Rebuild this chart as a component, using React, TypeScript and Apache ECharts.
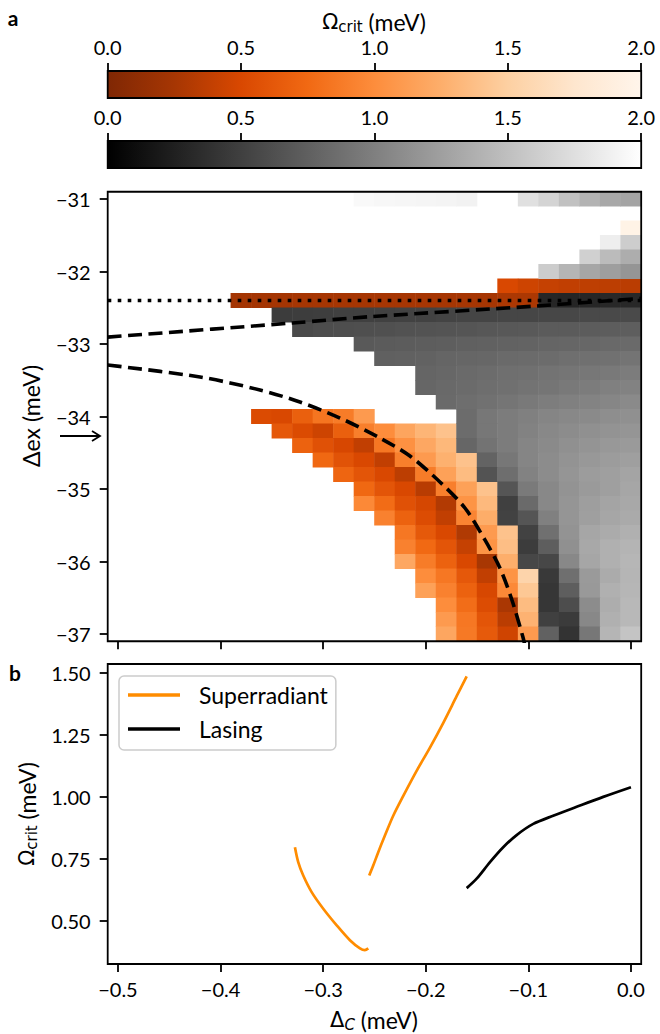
import React, { useEffect, useRef } from 'react';
import * as echarts from 'echarts';

// ---------- categories of the map (cell centres) ----------
const xCats = ['-0.50','-0.48','-0.46','-0.44','-0.42','-0.40','-0.38','-0.36','-0.34','-0.32','-0.30','-0.28','-0.26','-0.24','-0.22','-0.20','-0.18','-0.16','-0.14','-0.12','-0.10','-0.08','-0.06','-0.04','-0.02','0.00'];
const yCats = ['-31.0','-31.2','-31.4','-31.6','-31.8','-32.0','-32.2','-32.4','-32.6','-32.8','-33.0','-33.2','-33.4','-33.6','-33.8','-34.0','-34.2','-34.4','-34.6','-34.8','-35.0','-35.2','-35.4','-35.6','-35.8','-36.0','-36.2','-36.4','-36.6','-36.8','-37.0'];

// ---------- superradiant cells: [row, first column, values] ----------
const superradiantRows: [number, number, number[]][] = [
  [2, 25, [1.96]],
  [6, 19, [0.50, 0.44, 0.40, 0.38, 0.37, 0.36, 0.35]],
  [7, 6, [0.24, 0.24, 0.24, 0.25, 0.25, 0.25, 0.25, 0.25, 0.25, 0.25, 0.25, 0.25, 0.25, 0.28, 0.28]],
  [15, 7, [0.52, 0.50, 0.68, 0.83, 0.88, 1.10]],
  [16, 8, [0.62, 0.52, 0.44, 0.68, 0.90, 1.00, 1.18, 1.30, 1.40]],
  [17, 9, [0.70, 0.57, 0.49, 0.38, 0.85, 1.03, 1.20, 1.32]],
  [18, 10, [0.74, 0.58, 0.50, 0.38, 0.90, 1.10, 1.27, 1.40]],
  [19, 11, [0.72, 0.60, 0.50, 0.36, 0.88, 1.15, 1.35]],
  [20, 12, [0.74, 0.60, 0.50, 0.34, 0.90, 1.15, 1.40]],
  [21, 12, [0.97, 0.77, 0.57, 0.48, 0.31, 1.05, 1.33]],
  [22, 13, [0.92, 0.70, 0.53, 0.38, 0.94, 1.24]],
  [23, 14, [0.85, 0.63, 0.50, 0.30, 1.10, 1.40]],
  [24, 14, [0.92, 0.75, 0.60, 0.40, 1.05, 1.37]],
  [25, 14, [1.20, 0.88, 0.70, 0.50, 0.26, 1.25]],
  [26, 15, [1.00, 0.85, 0.62, 0.38, 1.05, 1.55]],
  [27, 15, [1.15, 0.92, 0.70, 0.49, 0.97, 1.44]],
  [28, 16, [1.00, 0.78, 0.53, 0.27, 1.35]],
  [29, 16, [1.10, 0.85, 0.60, 0.35, 1.28]],
  [30, 16, [1.19, 0.86, 0.64, 0.45, 1.10]],
];

// ---------- lasing cells: [row, first column, values] ----------
const lasingRows: [number, number, number[]][] = [
  [0, 12, [1.95, 1.94, 1.93, 1.92, 1.91, 1.90]],
  [0, 20, [1.76, 1.66, 1.51, 1.40, 1.32, 1.29]],
  [3, 24, [1.87, 1.61]],
  [4, 23, [1.63, 1.47, 1.36]],
  [5, 21, [1.60, 1.42, 1.30, 1.24, 1.17]],
  [7, 21, [0.30, 0.29, 0.30, 0.31, 0.31]],
  [8, 8, [0.47, 0.48, 0.49, 0.50, 0.50, 0.51, 0.52, 0.52, 0.53, 0.54, 0.54, 0.55, 0.55, 0.56, 0.56, 0.57, 0.57, 0.58]],
  [9, 9, [0.58, 0.60, 0.61, 0.62, 0.63, 0.64, 0.65, 0.66, 0.67, 0.68, 0.69, 0.70, 0.71, 0.71, 0.72, 0.73, 0.74]],
  [10, 12, [0.70, 0.71, 0.72, 0.73, 0.74, 0.75, 0.76, 0.77, 0.78, 0.79, 0.80, 0.81, 0.82, 0.83]],
  [11, 13, [0.75, 0.76, 0.77, 0.79, 0.80, 0.81, 0.83, 0.84, 0.85, 0.87, 0.88, 0.89, 0.91]],
  [12, 15, [0.79, 0.81, 0.83, 0.85, 0.87, 0.88, 0.90, 0.92, 0.93, 0.95, 0.97]],
  [13, 15, [0.80, 0.82, 0.84, 0.86, 0.88, 0.90, 0.92, 0.95, 0.97, 1.00, 1.02]],
  [14, 16, [0.83, 0.86, 0.89, 0.92, 0.95, 0.98, 1.00, 1.03, 1.05, 1.08]],
  [15, 17, [0.85, 0.93, 0.97, 1.00, 1.04, 1.07, 1.08, 1.11, 1.13]],
  [16, 17, [0.85, 0.93, 0.97, 1.02, 1.07, 1.10, 1.13, 1.15, 1.17]],
  [17, 17, [0.80, 0.90, 0.97, 1.04, 1.08, 1.13, 1.16, 1.19, 1.21]],
  [18, 18, [0.78, 0.93, 1.04, 1.10, 1.15, 1.19, 1.22, 1.25]],
  [19, 18, [0.65, 0.86, 1.02, 1.10, 1.17, 1.22, 1.25, 1.29]],
  [20, 19, [0.67, 0.96, 1.07, 1.15, 1.21, 1.25, 1.30]],
  [21, 19, [0.50, 0.83, 1.07, 1.17, 1.24, 1.29, 1.32]],
  [22, 19, [0.52, 0.67, 1.00, 1.17, 1.25, 1.30, 1.33]],
  [23, 20, [0.52, 0.88, 1.15, 1.30, 1.34, 1.38]],
  [24, 20, [0.47, 0.74, 1.13, 1.32, 1.38, 1.41]],
  [25, 20, [0.56, 0.56, 1.07, 1.30, 1.38, 1.43]],
  [26, 21, [0.45, 0.87, 1.21, 1.34, 1.42]],
  [27, 21, [0.42, 0.74, 1.20, 1.38, 1.43]],
  [28, 21, [0.42, 0.60, 1.10, 1.36, 1.44]],
  [29, 21, [0.50, 0.46, 1.07, 1.38, 1.44]],
  [30, 21, [0.76, 0.40, 0.93, 1.42, 1.54]],
];

// ---------- colour maps ----------
const orangeColors = ['#7f2704', '#a63603', '#d94801', '#f16913', '#fd8d3c', '#fdae6b', '#fdd0a2', '#fee6ce', '#fff5eb'];
const grayColors = ['#000000', '#ffffff'];

// ---------- guide lines in panel a ----------
const dottedLine = [[-0.51, -32.4], [0.01, -32.4]];
const upperDashed = [[-0.51, -32.905], [-0.33, -32.71], [-0.254, -32.623], [-0.092, -32.476], [0.01, -32.37]];
const lowerDashed = [[-0.51, -33.29], [-0.42, -33.455], [-0.3616, -33.634], [-0.3226, -33.80], [-0.2836, -34.021], [-0.2446, -34.297], [-0.2154, -34.545], [-0.1862, -34.903], [-0.1618, -35.262], [-0.1423, -35.703], [-0.1277, -36.09], [-0.116, -36.531], [-0.1053, -37.041], [-0.1035, -37.15]];

// ---------- panel b curves ----------
const superradiantUpper = [[-0.2551, 0.682], [-0.2512, 0.722], [-0.2463, 0.776], [-0.2398, 0.843], [-0.2317, 0.923], [-0.2219, 1.003], [-0.2089, 1.104], [-0.1959, 1.198], [-0.1829, 1.298], [-0.1699, 1.405], [-0.1601, 1.485]];
const superradiantLower = [[-0.3275, 0.796], [-0.3243, 0.736], [-0.3194, 0.682], [-0.3112, 0.615], [-0.2999, 0.548], [-0.2868, 0.481], [-0.2739, 0.421], [-0.2641, 0.388], [-0.2593, 0.381], [-0.2560, 0.388]];
const lasingCurve = [[-0.1601, 0.631], [-0.1504, 0.669], [-0.1374, 0.736], [-0.1245, 0.796], [-0.1114, 0.845], [-0.0952, 0.890], [-0.0758, 0.923], [-0.0529, 0.959], [-0.0270, 0.999], [0.0, 1.038]];
const bottomXTicks = [-0.5, -0.4, -0.3, -0.2, -0.1, 0];
const bottomYTicks = [0.5, 0.75, 1.0, 1.25, 1.5];

const FONT = 'Lato';
const TICK_FS = 20;
const NAME_FS = 23;

function toCells(rows: [number, number, number[]][]) {
  const out: number[][] = [];
  rows.forEach(([r, c0, vals]) => vals.forEach((v, k) => out.push([c0 + k, r, v])));
  return out;
}

const minus = (v: number, d: number) => (v < -1e-9 ? '\u2212' : '') + Math.abs(v).toFixed(d);

const tickStyle = { color: '#000', width: 1.8 };

function colorbarSeries(idx: number, colors: string[]) {
  return {
    type: 'custom',
    xAxisIndex: idx,
    yAxisIndex: idx,
    silent: true,
    data: [[0, 0, 2, 1]],
    renderItem: (params: any, api: any) => {
      const p0 = api.coord([api.value(0), api.value(1)]);
      const p1 = api.coord([api.value(2), api.value(3)]);
      const stops = colors.map((c, i) => ({ offset: i / (colors.length - 1), color: c }));
      return {
        type: 'rect',
        shape: { x: p0[0], y: p1[1], width: p1[0] - p0[0], height: p0[1] - p1[1] },
        style: { fill: new echarts.graphic.LinearGradient(0, 0, 1, 0, stops), stroke: '#000', lineWidth: 1.8 },
      };
    },
  };
}

function colorbarAxis(idx: number) {
  return {
    gridIndex: idx,
    type: 'value',
    min: 0,
    max: 2,
    interval: 0.5,
    position: 'top',
    axisLine: { show: false, onZero: false },
    axisTick: { show: true, inside: false, length: 8, lineStyle: tickStyle },
    axisLabel: { show: true, formatter: (v: number) => v.toFixed(1), fontSize: TICK_FS, fontFamily: FONT, color: '#000', margin: 14 },
    splitLine: { show: false },
  };
}

const subRich = (italic: boolean) => ({
  o: { fontFamily: 'DejaVu Sans', fontSize: 21, fill: '#000' },
  s: { fontFamily: 'DejaVu Sans', fontStyle: italic ? 'italic' : 'normal', fontSize: 15, fill: '#000', padding: [9, 0, 0, 0] },
  n: { fontFamily: FONT, fontSize: NAME_FS, fill: '#000' },
});

export default function App() {
  const ref = useRef<HTMLDivElement>(null);
  useEffect(() => {
    const chart = echarts.init(ref.current!, null, { renderer: 'svg' });
    const every5 = (i: number) => i % 5 === 0;
    const option: any = {
      animation: false,
      backgroundColor: '#ffffff',
      textStyle: { fontFamily: FONT },
      grid: [
        { left: 107.7, top: 191.75, width: 533.5, height: 449.5, show: false },
        { left: 107.7, top: 191.75, width: 533.5, height: 449.5, show: true, borderColor: '#000', borderWidth: 1.8, backgroundColor: 'transparent', z: 10 },
        { left: 107.7, top: 664, width: 533.5, height: 300, show: true, borderColor: '#000', borderWidth: 1.8, backgroundColor: 'transparent', z: 10 },
        { left: 107.7, top: 71, width: 533.5, height: 27, show: false },
        { left: 107.7, top: 141, width: 533.5, height: 27, show: false },
      ],
      xAxis: [
        {
          gridIndex: 0, type: 'category', data: xCats,
          axisLine: { show: false, onZero: false },
          axisTick: { show: true, alignWithLabel: true, interval: every5, length: 8, lineStyle: tickStyle },
          axisLabel: { show: false, interval: every5 },
          splitLine: { show: false },
        },
        { gridIndex: 1, type: 'value', min: -0.51, max: 0.01, show: false, axisLine: { onZero: false } },
        {
          gridIndex: 2, type: 'value', min: -0.51, max: 0.01,
          axisLine: { show: false, onZero: false },
          axisTick: { show: true, customValues: bottomXTicks, length: 8, lineStyle: tickStyle },
          axisLabel: { show: true, customValues: bottomXTicks, formatter: (v: number) => minus(v, 1), fontSize: TICK_FS, fontFamily: FONT, color: '#000', margin: 15 },
          splitLine: { show: false },
        },
        colorbarAxis(3),
        colorbarAxis(4),
      ],
      yAxis: [
        {
          gridIndex: 0, type: 'category', data: yCats, inverse: true,
          axisLine: { show: false, onZero: false },
          axisTick: { show: true, alignWithLabel: true, interval: every5, length: 8, lineStyle: tickStyle },
          axisLabel: { show: true, interval: every5, formatter: (v: string) => minus(parseFloat(v), 0), fontSize: TICK_FS, fontFamily: FONT, color: '#000', margin: 17 },
          splitLine: { show: false },
        },
        { gridIndex: 1, type: 'value', min: -37.1, max: -30.9, show: false, axisLine: { onZero: false } },
        {
          gridIndex: 2, type: 'value', min: 0.325, max: 1.535,
          axisLine: { show: false, onZero: false },
          axisTick: { show: true, customValues: bottomYTicks, length: 8, lineStyle: tickStyle },
          axisLabel: { show: true, customValues: bottomYTicks, formatter: (v: number) => v.toFixed(2), fontSize: TICK_FS, fontFamily: FONT, color: '#000', margin: 17 },
          splitLine: { show: false },
        },
        { gridIndex: 3, type: 'value', min: 0, max: 1, show: false, axisLine: { onZero: false } },
        { gridIndex: 4, type: 'value', min: 0, max: 1, show: false, axisLine: { onZero: false } },
      ],
      visualMap: [
        { type: 'continuous', show: false, seriesIndex: 0, dimension: 2, min: 0, max: 2, inRange: { color: orangeColors } },
        { type: 'continuous', show: false, seriesIndex: 1, dimension: 2, min: 0, max: 2, inRange: { color: grayColors } },
      ],
      legend: {
        show: true,
        left: 119,
        top: 676,
        orient: 'vertical',
        selectedMode: false,
        data: ['Superradiant', 'Lasing'],
        icon: 'rect',
        itemWidth: 52,
        itemHeight: 3.5,
        itemGap: 8,
        padding: [6, 8, 8, 9],
        borderColor: '#cccccc',
        borderWidth: 1.5,
        borderRadius: 5,
        backgroundColor: 'rgba(255,255,255,0.8)',
        textStyle: { fontSize: NAME_FS, fontFamily: FONT, color: '#000', lineHeight: 26, padding: [0, 0, 0, 14] },
      },
      series: [
        { type: 'heatmap', name: 'Superradiant map', xAxisIndex: 0, yAxisIndex: 0, data: toCells(superradiantRows), itemStyle: { borderWidth: 0 }, emphasis: { disabled: true }, silent: true },
        { type: 'heatmap', name: 'Lasing map', xAxisIndex: 0, yAxisIndex: 0, data: toCells(lasingRows), itemStyle: { borderWidth: 0 }, emphasis: { disabled: true }, silent: true },
        { type: 'line', name: 'dotted', xAxisIndex: 1, yAxisIndex: 1, data: dottedLine, symbol: 'none', z: 5, silent: true, lineStyle: { color: '#000', width: 3.6, type: [3.6, 6.4], cap: 'butt' } },
        { type: 'line', name: 'upper boundary', xAxisIndex: 1, yAxisIndex: 1, data: upperDashed, symbol: 'none', smooth: 0.3, z: 5, silent: true, lineStyle: { color: '#000', width: 3.6, type: [14, 6.5], cap: 'butt' } },
        { type: 'line', name: 'lower boundary', xAxisIndex: 1, yAxisIndex: 1, data: lowerDashed, symbol: 'none', smooth: 0.3, z: 5, silent: true, lineStyle: { color: '#000', width: 3.6, type: [14, 6.5], cap: 'butt' } },
        { type: 'line', name: 'Superradiant', xAxisIndex: 2, yAxisIndex: 2, data: superradiantUpper, symbol: 'none', smooth: 0.3, z: 5, itemStyle: { color: '#ff8c00' }, lineStyle: { color: '#ff8c00', width: 2.7 } },
        { type: 'line', name: 'Superradiant', xAxisIndex: 2, yAxisIndex: 2, data: superradiantLower, symbol: 'none', smooth: 0.3, z: 5, itemStyle: { color: '#ff8c00' }, lineStyle: { color: '#ff8c00', width: 2.7 } },
        { type: 'line', name: 'Lasing', xAxisIndex: 2, yAxisIndex: 2, data: lasingCurve, symbol: 'none', smooth: 0.3, z: 5, itemStyle: { color: '#000000' }, lineStyle: { color: '#000000', width: 2.7 } },
        colorbarSeries(3, orangeColors),
        colorbarSeries(4, grayColors),
      ],
      graphic: [
        { type: 'text', x: 13, y: 17, style: { text: 'a', fontSize: 21, fontWeight: 'bold', fontFamily: FONT, fill: '#000', align: 'center', verticalAlign: 'middle' } },
        { type: 'text', x: 15, y: 672, style: { text: 'b', fontSize: 21, fontWeight: 'bold', fontFamily: FONT, fill: '#000', align: 'center', verticalAlign: 'middle' } },
        { type: 'text', x: 374, y: 22, style: { text: '{o|\u03A9}{s|crit}{n| (meV)}', align: 'center', verticalAlign: 'middle', fill: '#000', rich: subRich(false) } },
        { type: 'text', x: 31, y: 416, rotation: Math.PI / 2, style: { text: '\u0394ex (meV)', fontSize: NAME_FS, fontFamily: FONT, fill: '#000', align: 'center', verticalAlign: 'middle' } },
        { type: 'text', x: 27, y: 814, rotation: Math.PI / 2, style: { text: '{o|\u03A9}{s|crit}{n| (meV)}', align: 'center', verticalAlign: 'middle', fill: '#000', rich: subRich(false) } },
        { type: 'text', x: 374, y: 1020, style: { text: '{o|\u0394}{s|C}{n| (meV)}', align: 'center', verticalAlign: 'middle', fill: '#000', rich: subRich(true) } },
        { type: 'line', shape: { x1: 60, y1: 436, x2: 100, y2: 436 }, style: { stroke: '#000', lineWidth: 1.8 } },
        { type: 'polyline', shape: { points: [[92, 431], [100, 436], [92, 441]] }, style: { stroke: '#000', lineWidth: 1.8, fill: null } },
      ],
    };
    chart.setOption(option);
    return () => chart.dispose();
  }, []);
  return <div ref={ref} style={{ position: 'absolute', left: 0, top: 0, width: 660, height: 1034, background: '#fff' }} />;
}
